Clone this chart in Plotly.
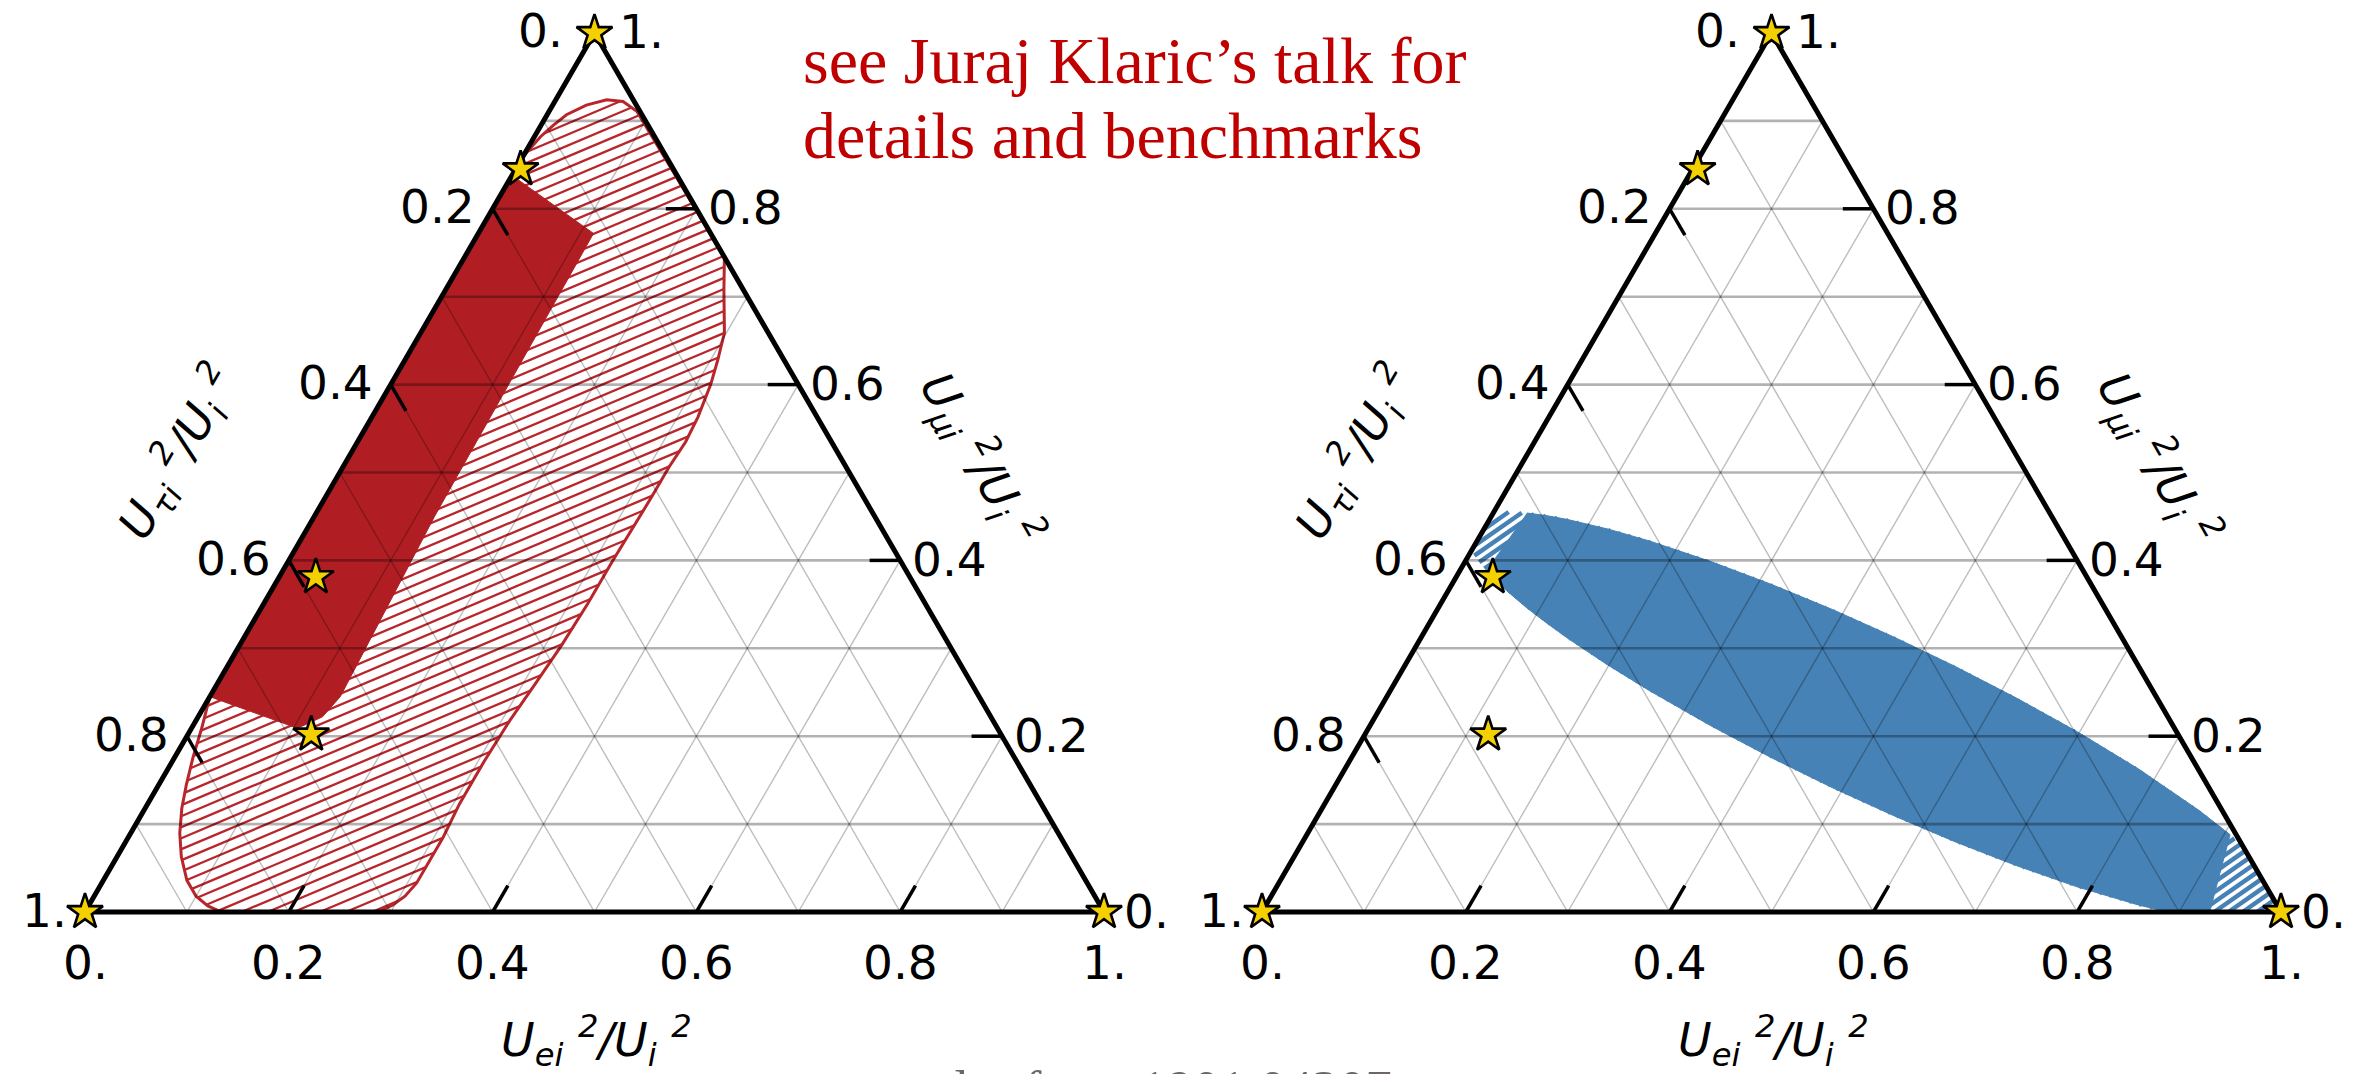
import numpy as np
import plotly.graph_objects as go

# ---------------- data (ternary fractions: e = U_ei^2/U_i^2, mu = U_mui^2/U_i^2, tau = 1 - e - mu)
TICK_VALUES = [0.0, 0.2, 0.4, 0.6, 0.8, 1.0]
TICK_LABELS = ["0.", "0.2", "0.4", "0.6", "0.8", "1."]
MINOR_TICKS = [0.2, 0.4, 0.6, 0.8]
GRID_VALUES = [0.1, 0.2, 0.3, 0.4, 0.5, 0.6, 0.7, 0.8, 0.9]

# benchmark points
STAR_E = [0.0, 0.005, 0.036, 0.121, 0.0, 1.0]
STAR_MU = [1.0, 0.845, 0.381, 0.202, 0.0, 0.0]

# left panel: hatched (outlined) region
HATCH_E = [0.000, 0.002, 0.006, 0.012, 0.019, 0.033, 0.050, 0.067, 0.086,
           0.255, 0.273, 0.298, 0.307, 0.314, 0.320, 0.322, 0.320, 0.320,
           0.319, 0.318, 0.318, 0.316, 0.312, 0.308, 0.306, 0.306, 0.309,
           0.309, 0.309, 0.305, 0.298, 0.288,
           0.134, 0.117, 0.100, 0.082, 0.063, 0.048, 0.036, 0.027, 0.018,
           0.010, 0.000]
HATCH_MU = [0.859, 0.866, 0.882, 0.895, 0.907, 0.918, 0.924, 0.922, 0.911,
            0.745, 0.708, 0.659, 0.628, 0.600, 0.563, 0.535, 0.506, 0.472,
            0.431, 0.398, 0.350, 0.303, 0.259, 0.218, 0.171, 0.123, 0.085,
            0.059, 0.033, 0.018, 0.008, 0.000,
            0.000, 0.007, 0.018, 0.036, 0.063, 0.090, 0.118, 0.145, 0.176,
            0.209, 0.245]

# left panel: solid region
SOLID_E = [0.000, 0.113, 0.118, 0.128, 0.122, 0.104, 0.000]
SOLID_MU = [0.838, 0.772, 0.450, 0.245, 0.222, 0.209, 0.245]

# right panel: full region (hatched at its ends)
BLUE_E = [0.000, 0.0124, 0.0330, 0.0546, 0.0767, 0.1223, 0.1689, 0.2405, 0.3136,
          0.3880, 0.4635, 0.5402, 0.6182, 0.6975, 0.7785, 0.8624, 0.9061, 0.9230,
          1.000, 0.889,
          0.856, 0.7857, 0.7136, 0.640, 0.5652, 0.4893, 0.4122, 0.3339, 0.254,
          0.1998, 0.1443, 0.1159, 0.0870, 0.0572, 0.0418, 0.0258, 0.0087, 0.000]
BLUE_MU = [0.4544, 0.4552, 0.4539, 0.4508, 0.4465, 0.4355, 0.4222, 0.3989, 0.3727,
           0.3440, 0.3129, 0.2795, 0.2436, 0.2051, 0.1629, 0.1152, 0.0879, 0.0770,
           0.000, 0.000,
           0.008, 0.0286, 0.0529, 0.080, 0.1096, 0.1413, 0.1755, 0.2122, 0.252,
           0.2805, 0.3114, 0.3282, 0.3459, 0.3656, 0.3764, 0.3884, 0.4025, 0.4108]

# right panel: solid part of the region
BLUE_SOLID_E = [0.0330, 0.0546, 0.0767, 0.1223, 0.1689, 0.2405, 0.3136, 0.3880,
                0.4635, 0.5402, 0.6182, 0.6975, 0.7785, 0.8624, 0.9061,
                0.930, 0.889,
                0.856, 0.7857, 0.7136, 0.640, 0.5652, 0.4893, 0.4122, 0.3339, 0.254,
                0.1998, 0.1443, 0.1159, 0.0870, 0.0572, 0.0418, 0.0258]
BLUE_SOLID_MU = [0.4539, 0.4508, 0.4465, 0.4355, 0.4222, 0.3989, 0.3727, 0.3440,
                 0.3129, 0.2795, 0.2436, 0.2051, 0.1629, 0.1152, 0.0879,
                 0.000, 0.000,
                 0.008, 0.0286, 0.0529, 0.080, 0.1096, 0.1413, 0.1755, 0.2122, 0.252,
                 0.2805, 0.3114, 0.3282, 0.3459, 0.3656, 0.3764, 0.3884]

# ---------------- styling
W, H = 2361, 1074
PX_X, PX_Y = 1019.0, 1015.0          # pixels per unit
LEFT_ORIGIN, RIGHT_ORIGIN, BASE_FROM_BOTTOM = 85, 1262, 162
SQ = np.sqrt(3) / 2

RED = "#B01E23"
RED_LINE = "#B8262B"
BLUE = "rgb(70,130,182)"
STAR_FILL = "#F5D000"
GRID_COL = "rgba(0,0,0,0.26)"
GRID_COL_H = "rgba(0,0,0,0.30)"
TICK_FONT = dict(family="DejaVu Sans", size=47, color="black")
TITLE_FONT = dict(family="DejaVu Sans", size=46, color="black")
TICK_LEN = 0.030


def tern(e, mu):
    e = np.asarray(e, float)
    mu = np.asarray(mu, float)
    return e + 0.5 * mu, SQ * mu


def hatch(px, py, angle_deg, spacing, phase=0.0):
    """Parallel hatch segments clipped to a closed polygon."""
    th = np.radians(angle_deg)
    d = np.array([np.cos(th), np.sin(th)])
    n = np.array([-np.sin(th), np.cos(th)])
    P = np.column_stack([px, py])
    P = np.vstack([P, P[:1]])
    proj = P @ n
    start = np.floor(proj.min() / spacing) * spacing + phase
    xs, ys = [], []
    for c in np.arange(start, proj.max(), spacing):
        ts = []
        for i in range(len(P) - 1):
            a, b = proj[i] - c, proj[i + 1] - c
            if (a < 0) != (b < 0):
                t = a / (a - b)
                X = P[i] + t * (P[i + 1] - P[i])
                ts.append(X @ d)
        ts.sort()
        for k in range(0, len(ts) - 1, 2):
            p0 = c * n + ts[k] * d
            p1 = c * n + ts[k + 1] * d
            xs += [p0[0], p1[0], None]
            ys += [p0[1], p1[1], None]
    return xs, ys


def segments(pairs):
    xs, ys = [], []
    for (e0, m0), (e1, m1) in pairs:
        x, y = tern([e0, e1], [m0, m1])
        xs += [x[0], x[1], None]
        ys += [y[0], y[1], None]
    return xs, ys


fig = go.Figure()


def add_frame(xa, annotations):
    # grid
    hx, hy = segments([((0, v), (1 - v, v)) for v in GRID_VALUES])
    sx, sy = segments([((v, 0), (v, 1 - v)) for v in GRID_VALUES] +
                      [((0, 1 - v), (1 - v, 0)) for v in GRID_VALUES])
    fig.add_trace(go.Scatter(x=sx, y=sy, xaxis=xa, yaxis="y", mode="lines",
                             line=dict(color=GRID_COL, width=1.4), hoverinfo="skip"))
    fig.add_trace(go.Scatter(x=hx, y=hy, xaxis=xa, yaxis="y", mode="lines",
                             line=dict(color=GRID_COL_H, width=2.6), hoverinfo="skip"))
    # triangle
    fx, fy = tern([0, 1, 0, 0], [0, 0, 1, 0])
    fig.add_trace(go.Scatter(x=fx, y=fy, xaxis=xa, yaxis="y", mode="lines",
                             line=dict(color="black", width=5), hoverinfo="skip"))
    # ticks
    tx, ty = segments([((v, 0), (v, TICK_LEN)) for v in MINOR_TICKS] +
                      [((0, 1 - v), (TICK_LEN, 1 - v - TICK_LEN)) for v in MINOR_TICKS] +
                      [((1 - v, v), (1 - v - TICK_LEN, v)) for v in MINOR_TICKS])
    fig.add_trace(go.Scatter(x=tx, y=ty, xaxis=xa, yaxis="y", mode="lines",
                             line=dict(color="black", width=3.5), hoverinfo="skip"))
    # tick labels
    for v, lab in zip(TICK_VALUES, TICK_LABELS):
        bx, by = tern(v, 0)
        annotations.append(dict(x=float(bx), y=float(by), xref=xa, yref="y", text=lab,
                                showarrow=False, xanchor="center", yanchor="middle",
                                yshift=-50, font=TICK_FONT))
        lx, ly = tern(0, 1 - v)
        extra = 14 if v == 0 else 0
        annotations.append(dict(x=float(lx), y=float(ly), xref=xa, yref="y", text=lab,
                                showarrow=False, xanchor="right", yanchor="middle",
                                xshift=-16 - extra, yshift=2, font=TICK_FONT))
        rx, ry = tern(1 - v, v)
        extra = 12 if v == 1 else (8 if v == 0 else 0)
        annotations.append(dict(x=float(rx), y=float(ry), xref=xa, yref="y", text=lab,
                                showarrow=False, xanchor="left", yanchor="middle",
                                xshift=10 + extra, yshift=1, font=TICK_FONT))
    # axis titles
    for (te, tm), txt, ang in [((-0.170, 0.523), "<i>U<sub>τi</sub> <sup>2</sup>/U<sub>i</sub> <sup>2</sup></i>", -60),
                               ((0.621, 0.515), "<i>U<sub>μi</sub> <sup>2</sup>/U<sub>i</sub> <sup>2</sup></i>", 60),
                               ((0.575, -0.146), "<i>U<sub>ei</sub> <sup>2</sup>/U<sub>i</sub> <sup>2</sup></i>", 0)]:
        ax_, ay_ = tern(te, tm)
        annotations.append(dict(x=float(ax_), y=float(ay_), xref=xa, yref="y", text=txt,
                                showarrow=False, textangle=ang, font=TITLE_FONT,
                                xanchor="center", yanchor="middle"))


def add_stars(xa):
    x, y = tern(STAR_E, STAR_MU)
    fig.add_trace(go.Scatter(x=x, y=y, xaxis=xa, yaxis="y", mode="markers",
                             marker=dict(symbol="star", size=27, color=STAR_FILL,
                                         line=dict(color="black", width=2.6)),
                             cliponaxis=False, hoverinfo="skip"))


annotations = []

# ---- left panel
hx_, hy_ = tern(HATCH_E, HATCH_MU)
lx_, ly_ = hatch(hx_, hy_, 23, 0.0100)
fig.add_trace(go.Scatter(x=lx_, y=ly_, xaxis="x", yaxis="y", mode="lines",
                         line=dict(color=RED_LINE, width=2.3), hoverinfo="skip"))
fig.add_trace(go.Scatter(x=list(hx_) + [hx_[0]], y=list(hy_) + [hy_[0]], xaxis="x", yaxis="y",
                         mode="lines", line=dict(color=RED_LINE, width=3), hoverinfo="skip"))
sx_, sy_ = tern(SOLID_E, SOLID_MU)
fig.add_trace(go.Scatter(x=sx_, y=sy_, xaxis="x", yaxis="y", mode="lines", fill="toself",
                         fillcolor=RED, line=dict(color=RED, width=1), hoverinfo="skip"))
add_frame("x", annotations)
add_stars("x")

# ---- right panel
bx_, by_ = tern(BLUE_E, BLUE_MU)
blx, bly = hatch(bx_, by_, 35, 0.0080)
fig.add_trace(go.Scatter(x=blx, y=bly, xaxis="x2", yaxis="y", mode="lines",
                         line=dict(color=BLUE, width=4.5), hoverinfo="skip"))
bsx, bsy = tern(BLUE_SOLID_E, BLUE_SOLID_MU)
fig.add_trace(go.Scatter(x=bsx, y=bsy, xaxis="x2", yaxis="y", mode="lines", fill="toself",
                         fillcolor=BLUE, line=dict(color=BLUE, width=1), hoverinfo="skip"))
add_frame("x2", annotations)
add_stars("x2")

# ---- slide text
annotations.append(dict(x=801 / W, y=1 - 60 / H, xref="paper", yref="paper",
                        text="see Juraj Klaric’s talk for", showarrow=False,
                        xanchor="left", yanchor="middle",
                        font=dict(family="Liberation Serif", size=66, color="#C00000")))
annotations.append(dict(x=801 / W, y=1 - 136 / H, xref="paper", yref="paper",
                        text="details and benchmarks", showarrow=False,
                        xanchor="left", yanchor="middle",
                        font=dict(family="Liberation Serif", size=66, color="#C00000")))
annotations.append(dict(x=926 / W, y=1 - 1089 / H, xref="paper", yref="paper",
                        text="plot from 1901.04207", showarrow=False,
                        xanchor="left", yanchor="middle",
                        font=dict(family="Liberation Serif", size=53, color="rgb(110,102,102)")))

fig.update_layout(
    width=W, height=H, autosize=False,
    margin=dict(l=0, r=0, t=0, b=0),
    paper_bgcolor="white", plot_bgcolor="white",
    showlegend=False,
    xaxis=dict(range=[-LEFT_ORIGIN / PX_X, (W - LEFT_ORIGIN) / PX_X], domain=[0, 1],
               visible=False, fixedrange=True),
    xaxis2=dict(range=[-RIGHT_ORIGIN / PX_X, (W - RIGHT_ORIGIN) / PX_X], domain=[0, 1],
                overlaying="x", visible=False, fixedrange=True),
    yaxis=dict(range=[-BASE_FROM_BOTTOM / PX_Y, (H - BASE_FROM_BOTTOM) / PX_Y], domain=[0, 1],
               visible=False, fixedrange=True),
    annotations=annotations,
)

fig.write_html("out.html")
